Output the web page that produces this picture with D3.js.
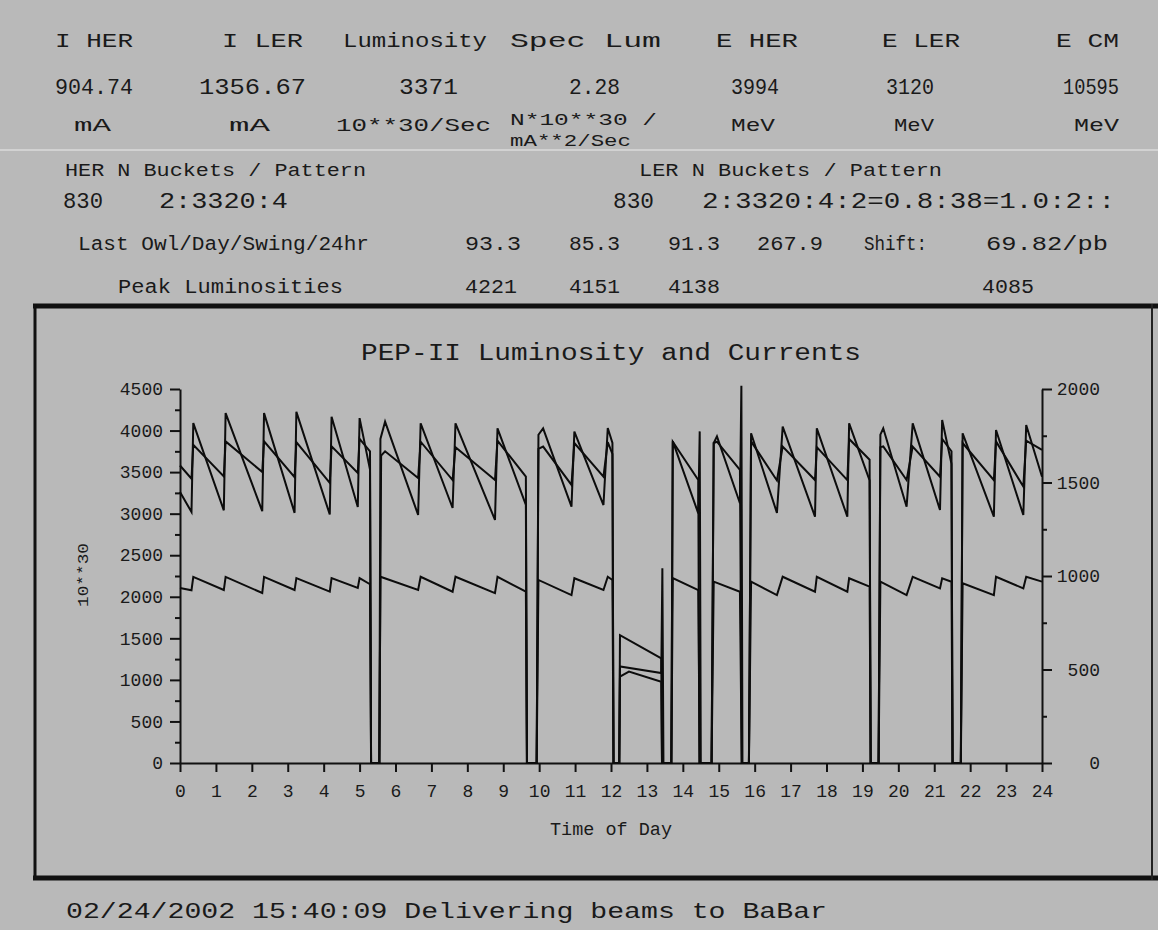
<!DOCTYPE html>
<html><head><meta charset="utf-8">
<script src="https://cdn.jsdelivr.net/npm/d3@7"></script>
<style>
body{margin:0;background:#b9b9b9;}
svg{display:block;}
text{font-family:"Liberation Mono","DejaVu Sans Mono",monospace;fill:#1a1a1a;}
</style>
</head><body>
<svg id="chart" width="1158" height="930"></svg>
<script>
// ---------- data ----------
const hourTicks = [0,1,2,3,4,5,6,7,8,9,10,11,12,13,14,15,16,17,18,19,20,21,22,23,24];
const lumTicks = [0,500,1000,1500,2000,2500,3000,3500,4000,4500];
const curTicks = [0,500,1000,1500,2000];

// Luminosity (10**30/Sec, left axis)
const lumT = [0,0.32,0.37,1.22,1.27,2.29,2.34,3.19,3.24,4.17,4.22,4.95,5.0,5.29,5.32,5.55,
  5.58,5.71,6.63,6.70,7.59,7.67,8.77,8.84,9.63,9.66,9.93,
  9.98,10.11,10.90,10.98,11.79,11.91,12.04,12.07,12.23,
  12.25,12.50,13.40,13.42,13.68,
  13.72,14.43,14.47,14.50,14.80,
  14.86,14.95,15.59,15.63,15.66,15.84,
  15.90,16.62,16.78,17.68,17.73,18.58,18.63,19.20,19.23,19.45,
  19.50,19.58,20.23,20.40,21.16,21.22,21.48,21.51,21.74,
  21.79,22.66,22.72,23.48,23.56,24.0];
const lumV = [3260,3020,4090,3040,4210,3030,4210,3010,4225,2990,4165,3080,4150,3530,0,0,
  3900,4107,2985,4087,3068,4087,2924,4027,3104,0,0,
  3950,4027,3084,3987,3104,4030,3850,0,0,
  1040,1100,978,0,0,
  3870,3004,3990,0,0,
  3850,3930,3125,4540,0,0,
  3967,3010,4047,2964,4027,2964,4087,3400,0,0,
  3950,4027,3084,4087,3044,4127,3600,0,0,
  3967,2964,4007,2984,4067,3445];

// LER current (mA, right axis)
const lerT = [0,0.32,0.37,1.22,1.27,2.29,2.34,3.19,3.24,4.17,4.22,4.95,5.0,5.29,5.32,5.55,
  5.60,5.71,6.63,6.70,7.59,7.67,8.77,8.84,9.63,9.66,9.93,
  9.98,10.11,10.90,10.98,11.79,11.91,12.04,12.07,12.23,
  12.25,13.40,13.42,13.68,
  13.72,14.43,14.46,14.80,
  14.86,14.95,15.59,15.64,15.84,
  15.90,16.62,16.78,17.68,17.73,18.58,18.63,19.20,19.23,19.45,
  19.50,19.58,20.23,20.40,21.16,21.22,21.48,21.51,21.74,
  21.79,22.66,22.72,23.48,23.56,24.0];
const lerV = [1591,1520,1702,1533,1720,1556,1720,1529,1716,1498,1693,1551,1733,1667,0,0,
  1644,1667,1524,1718,1513,1689,1513,1724,1531,0,0,
  1680,1692,1487,1711,1531,1716,1653,0,0,
  684,560,0,0,
  1718,1513,0,0,
  1711,1718,1567,0,0,
  1720,1511,1692,1513,1689,1513,1733,1622,0,0,
  1689,1693,1513,1692,1531,1733,1667,0,0,
  1711,1513,1720,1478,1724,1674];

// HER current (mA, right axis)
const herT = [0,0.32,0.37,1.22,1.27,2.29,2.34,3.19,3.24,4.17,4.22,4.95,5.0,5.29,5.32,5.55,
  5.58,6.63,6.70,7.59,7.67,8.77,8.84,9.63,9.66,9.93,
  9.98,10.90,10.98,11.79,11.91,12.04,12.07,12.23,
  12.25,13.40,13.43,13.46,13.68,
  13.72,14.43,14.47,14.80,
  14.86,15.59,15.64,15.84,
  15.90,16.62,16.78,17.68,17.73,18.58,18.63,19.20,19.23,19.45,
  19.50,20.23,20.40,21.16,21.22,21.48,21.51,21.74,
  21.79,22.66,22.72,23.48,23.56,24.0];
const herV = [936,924,995,925,995,909,995,925,989,916,989,936,989,956,0,0,
  996,925,996,916,996,908,996,916,0,0,
  979,898,988,925,996,979,0,0,
  516,481,1041,0,0,
  989,925,0,0,
  970,916,0,0,
  970,898,996,916,996,916,988,943,0,0,
  970,898,996,934,988,969,0,0,
  961,898,996,934,996,970];

// header texts
const headLabels = ["I HER","I LER","Luminosity","Spec Lum","E HER","E LER","E CM"];
const headValues = ["904.74","1356.67","3371","2.28","3994","3120","10595"];
const headUnits  = ["mA","mA","10**30/Sec","N*10**30 /","MeV","MeV","MeV"];
const shiftLabels = ["93.3","85.3","91.3","267.9"];
const peakLabels = ["4221","4151","4138","4085"];

// ---------- drawing ----------
const svg = d3.select("#chart");
svg.append("rect").attr("width",1158).attr("height",930).attr("fill","#b9b9b9");

function txt(s, x, y, w, size, anchor){
  const t = svg.append("text").attr("x",x).attr("y",y).attr("font-size",size).text(s);
  if (w) t.attr("textLength",w).attr("lengthAdjust","spacingAndGlyphs");
  if (anchor) t.attr("text-anchor",anchor);
  return t;
}

// header row
const hx1 = [[55,78],[222,81],[343,144],[510,151],[716,82],[882,78],[1056,63]];
headLabels.forEach((s,i)=>txt(s,hx1[i][0],47,hx1[i][1],21));
const hx2 = [[55,78],[199,107],[399,59],[569,51],[731,48],[886,48],[1063,56]];
headValues.forEach((s,i)=>txt(s,hx2[i][0],94,hx2[i][1],22));
const hx3 = [[74,37],[229,41],[336,155],[510,147],[731,44],[894,40],[1074,45]];
headUnits.forEach((s,i)=>txt(s,hx3[i][0],i===3?125:131,hx3[i][1],i===3?17:19));
txt("mA**2/Sec",510,146,121,17);
svg.append("line").attr("x1",0).attr("x2",1158).attr("y1",150).attr("y2",150)
  .attr("stroke","#d2d2d2").attr("stroke-width",2);

txt("HER N Buckets / Pattern",65,176,301,19);
txt("LER N Buckets / Pattern",639,176,303,19);
txt("830",63,208,40,22);
txt("2:3320:4",159,208,129,22);
txt("830",613,208,41,22);
txt("2:3320:4:2=0.8:38=1.0:2::",702,208,413,22);
txt("Last Owl/Day/Swing/24hr",78,250,291,20);
const sx = [[465,56],[569,51],[668,52],[757,66]];
shiftLabels.forEach((s,i)=>txt(s,sx[i][0],250,sx[i][1],20));
txt("Shift:",864,250,63,20);
txt("69.82/pb",986,250,122,20);
txt("Peak Luminosities",118,293,225,20);
const px4 = [[465,52],[569,51],[668,52],[982,52]];
peakLabels.forEach((s,i)=>txt(s,px4[i][0],293,px4[i][1],20));

// panel frame
svg.append("line").attr("x1",33).attr("x2",1158).attr("y1",306).attr("y2",306).attr("stroke","#111").attr("stroke-width",5);
svg.append("line").attr("x1",35).attr("x2",35).attr("y1",304).attr("y2",880).attr("stroke","#111").attr("stroke-width",3);
svg.append("line").attr("x1",33).attr("x2",1158).attr("y1",878).attr("y2",878).attr("stroke","#111").attr("stroke-width",5);
svg.append("line").attr("x1",1152).attr("x2",1152).attr("y1",304).attr("y2",880).attr("stroke","#222").attr("stroke-width",2);

// title
txt("PEP-II Luminosity and Currents",611,360,500,23,"middle");

// scales
const x = d3.scaleLinear().domain([0,24]).range([180,1042]);
const yL = d3.scaleLinear().domain([0,4500]).range([763,389]);
const yR = d3.scaleLinear().domain([0,2000]).range([763,389]);

function styleAxis(g){
  g.select(".domain").attr("stroke","#111").attr("stroke-width",2);
  g.selectAll(".tick line").attr("stroke","#111").attr("stroke-width",2);
  g.selectAll(".tick text").attr("font-family","Liberation Mono").attr("fill","#1a1a1a");
}

// left axis
const gL = svg.append("g").attr("transform","translate(180,0)")
  .call(d3.axisLeft(yL).tickValues(lumTicks).tickSize(10).tickPadding(7).tickFormat(d3.format("d")).tickSizeOuter(0));
styleAxis(gL); gL.selectAll(".tick text").attr("font-size",18);
svg.append("g").attr("transform","translate(180,0)")
  .call(d3.axisLeft(yL).tickValues(lumTicks.slice(0,-1).map(d=>d+250)).tickSize(5).tickFormat("").tickSizeOuter(0))
  .call(g=>{g.select(".domain").remove(); g.selectAll("line").attr("stroke","#111").attr("stroke-width",2);});

// right axis
const gR = svg.append("g").attr("transform","translate(1042,0)")
  .call(d3.axisRight(yR).tickValues(curTicks).tickSize(10).tickPadding(4).tickFormat(d3.format("d")).tickSizeOuter(0));
styleAxis(gR);
gR.selectAll(".tick text").attr("font-size",18).attr("text-anchor","end").attr("x",58);
svg.append("g").attr("transform","translate(1042,0)")
  .call(d3.axisRight(yR).tickValues(curTicks.slice(0,-1).map(d=>d+250)).tickSize(5).tickFormat("").tickSizeOuter(0))
  .call(g=>{g.select(".domain").remove(); g.selectAll("line").attr("stroke","#111").attr("stroke-width",2);});

// bottom axis
const gB = svg.append("g").attr("transform","translate(0,763)")
  .call(d3.axisBottom(x).tickValues(hourTicks).tickSize(9).tickPadding(12).tickFormat(d3.format("d")).tickSizeOuter(0));
styleAxis(gB); gB.selectAll(".tick text").attr("font-size",18);

txt("Time of Day",611,835,122,18,"middle");
svg.append("text").attr("transform","translate(88,575) rotate(-90)")
  .attr("text-anchor","middle").attr("font-size",15).attr("textLength",64)
  .attr("lengthAdjust","spacingAndGlyphs").text("10**30");

// lines
const lineL = d3.line().x(d=>x(d[0])).y(d=>yL(d[1]));
const lineR = d3.line().x(d=>x(d[0])).y(d=>yR(d[1]));
const lum = d3.zip(lumT,lumV), ler = d3.zip(lerT,lerV), her = d3.zip(herT,herV);
const gLines = svg.append("g").attr("fill","none").attr("stroke","#0c0c0c").attr("stroke-width",2).attr("stroke-linejoin","miter");
gLines.append("path").attr("d",lineR(her));
gLines.append("path").attr("d",lineR(ler));
gLines.append("path").attr("d",lineL(lum));

// footer
txt("02/24/2002 15:40:09  Delivering beams to BaBar",66,918,761,22);
</script>
</body></html>
